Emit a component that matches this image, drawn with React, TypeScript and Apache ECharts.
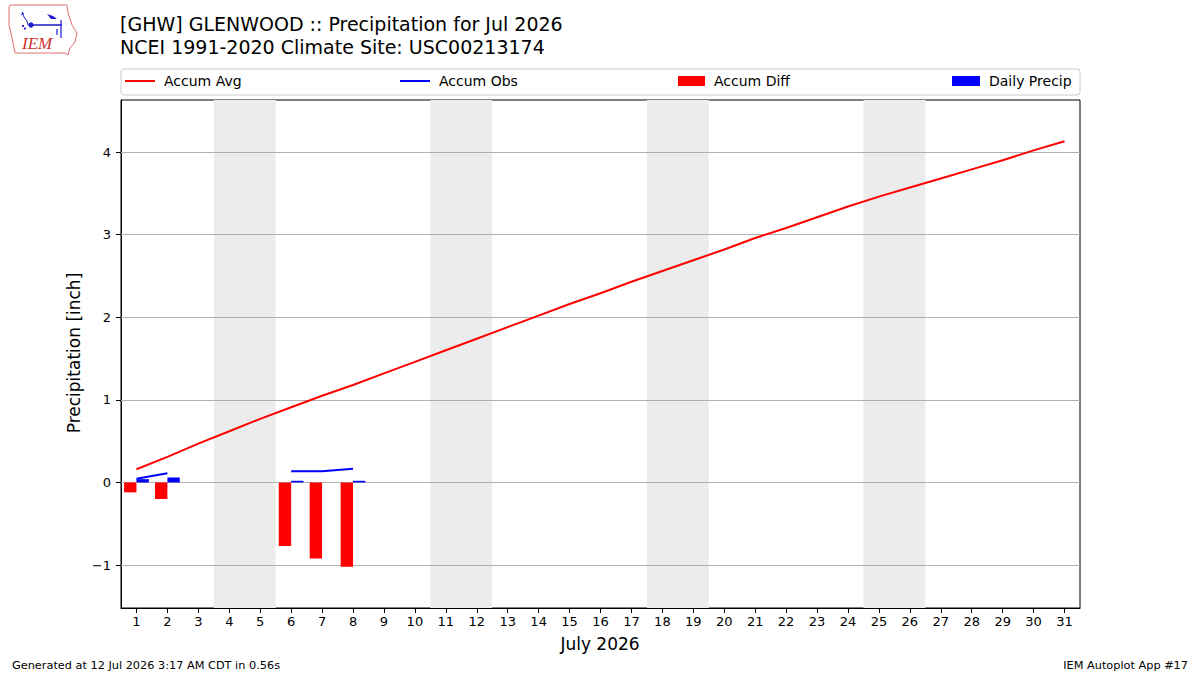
import React, { useEffect, useRef } from "react";
import * as echarts from "echarts";

const days = [1, 2, 3, 4, 5, 6, 7, 8, 9, 10, 11, 12, 13, 14, 15, 16, 17, 18, 19, 20, 21, 22, 23, 24, 25, 26, 27, 28, 29, 30, 31];
const accumAvg = [0.16, 0.31, 0.47, 0.62, 0.77, 0.91, 1.05, 1.18, 1.32, 1.46, 1.6, 1.74, 1.88, 2.02, 2.16, 2.29, 2.43, 2.56, 2.69, 2.82, 2.96, 3.08, 3.21, 3.34, 3.46, 3.57, 3.68, 3.79, 3.9, 4.02, 4.13];
const accumObs: (number | null)[] = [0.045, 0.11, null, null, null, 0.135, 0.135, 0.165];
const accumDiff: (number | null)[] = [-0.12, -0.2, null, null, null, -0.77, -0.92, -1.02];
const dailyPrecip: (number | null)[] = [0.04, 0.06, null, null, null, 0.02, 0, 0.02];
const weekendStarts = [4, 11, 18, 25];
const yTicks = [-1, 0, 1, 2, 3, 4];
const titleLines = ["[GHW] GLENWOOD :: Precipitation for Jul 2026", "NCEI 1991-2020 Climate Site: USC00213174"];

const FONT = "DejaVu Sans";

export default function App() {
  const ref = useRef<HTMLDivElement>(null);
  useEffect(() => {
    const chart = echarts.init(ref.current!, null, { renderer: "svg" });

    const barSeries = (name: string, values: (number | null)[], color: string, off0: number, off1: number) => ({
      name,
      type: "custom",
      z: 3,
      color,
      itemStyle: { color },
      encode: { x: 0, y: 1 },
      data: days
        .map((d, i) => (values[i] == null ? null : [d, values[i] as number]))
        .filter((v) => v !== null),
      renderItem: (_p: any, api: any) => {
        const x = api.value(0);
        const y = api.value(1);
        const a = api.coord([x + off0, 0]);
        const b = api.coord([x + off1, y]);
        return {
          type: "rect",
          shape: { x: a[0], y: Math.min(a[1], b[1]), width: b[0] - a[0], height: Math.abs(b[1] - a[1]) },
          style: { fill: color },
        };
      },
    });

    const legendText = { fontFamily: FONT, fontSize: 14, color: "#000", padding: [0, 0, 0, 4] };
    const mkLegend = (name: string, left: number, w: number, h: number) => ({
      data: [{ name, icon: "rect" }],
      left,
      top: 74,
      itemWidth: w,
      itemHeight: h,
      textStyle: legendText,
      selectedMode: false,
      padding: 0,
    });

    const blue = "#1a1acc";
    const option: any = {
      animation: false,
      backgroundColor: "#fff",
      textStyle: { fontFamily: FONT },
      grid: { left: 121, right: 120, top: 100, bottom: 67, show: true, borderColor: "#000", borderWidth: 1, backgroundColor: "transparent" },
      legend: [
        mkLegend("Accum Avg", 125, 30, 2),
        mkLegend("Accum Obs", 400, 30, 2),
        mkLegend("Accum Diff", 678, 27, 10),
        mkLegend("Daily Precip", 952, 28, 10),
      ],
      xAxis: {
        type: "value",
        min: 0.5,
        max: 31.5,
        axisLine: { show: true, onZero: false, lineStyle: { color: "#000", width: 1 } },
        axisTick: { show: true, customValues: days, length: 5, lineStyle: { color: "#000" } },
        axisLabel: { customValues: days, color: "#000", fontSize: 13, fontFamily: FONT, margin: 7 },
        splitLine: { show: false },
      },
      yAxis: {
        type: "value",
        min: -1.52,
        max: 4.63,
        axisLine: { show: true, onZero: false, lineStyle: { color: "#000", width: 1 } },
        axisTick: { show: true, customValues: yTicks, length: 5, lineStyle: { color: "#000" } },
        axisLabel: {
          customValues: yTicks,
          color: "#000",
          fontSize: 13,
          fontFamily: FONT,
          margin: 10,
          formatter: (v: number) => (v < 0 ? "\u2212" + Math.abs(v) : String(v)),
        },
        splitLine: { show: false },
      },
      series: [
        {
          name: "bg",
          type: "line",
          data: [],
          z: 0,
          silent: true,
          markArea: {
            silent: true,
            z: 0,
            itemStyle: { color: "#ececec" },
            data: weekendStarts.map((d) => [{ xAxis: d - 0.5 }, { xAxis: d + 1.5 }]),
          },
        },
        {
          name: "grid",
          type: "line",
          data: [],
          z: 1,
          silent: true,
          markLine: {
            silent: true,
            z: 1,
            symbol: "none",
            label: { show: false },
            lineStyle: { color: "#b0b0b0", width: 1, type: "solid" },
            data: yTicks.map((v) => ({ yAxis: v })),
          },
        },
        {
          name: "Accum Avg",
          type: "line",
          z: 4,
          color: "#ff0000",
          symbol: "none",
          itemStyle: { color: "#ff0000" },
          lineStyle: { color: "#ff0000", width: 2 },
          data: days.map((d, i) => [d, accumAvg[i]]),
        },
        {
          name: "Accum Obs",
          type: "line",
          z: 4,
          color: "#0000ff",
          symbol: "none",
          connectNulls: false,
          itemStyle: { color: "#0000ff" },
          lineStyle: { color: "#0000ff", width: 2 },
          data: days.map((d, i) => [d, accumObs[i] == null ? "-" : accumObs[i]]),
        },
        barSeries("Accum Diff", accumDiff, "#ff0000", -0.4, 0),
        barSeries("Daily Precip", dailyPrecip, "#0000ff", 0, 0.4),
      ],
      graphic: [
        { type: "rect", z: -1, shape: { x: 121, y: 69, width: 959, height: 26, r: 3 }, style: { fill: "#fff", stroke: "#cccccc", lineWidth: 1 } },
        { type: "text", x: 120, y: 24, style: { text: titleLines[0], font: `19px "${FONT}"`, fill: "#000", verticalAlign: "middle" } },
        { type: "text", x: 120, y: 47, style: { text: titleLines[1], font: `19px "${FONT}"`, fill: "#000", verticalAlign: "middle" } },
        { type: "text", x: 74, y: 353, rotation: Math.PI / 2, style: { text: "Precipitation [inch]", font: `17px "${FONT}"`, fill: "#000", align: "center", verticalAlign: "middle" } },
        { type: "text", x: 600, y: 644, style: { text: "July 2026", font: `17px "${FONT}"`, fill: "#000", align: "center", verticalAlign: "middle" } },
        { type: "text", x: 12, y: 665, style: { text: "Generated at 12 Jul 2026 3:17 AM CDT in 0.56s", font: `11.3px "${FONT}"`, fill: "#000", verticalAlign: "middle" } },
        { type: "text", x: 1188, y: 665, style: { text: "IEM Autoplot App #17", font: `11.3px "${FONT}"`, fill: "#000", align: "right", verticalAlign: "middle" } },
        {
          type: "group",
          children: [
            {
              type: "polygon",
              shape: { points: [[10, 5], [67, 5], [68, 13], [72, 25], [77, 33], [75, 42], [70, 48], [68, 55], [65, 53], [15, 53], [13, 43], [11, 33], [9, 25], [9, 7]] },
              style: { fill: "none", stroke: "#e07070", lineWidth: 1 },
            },
            { type: "line", shape: { x1: 31, y1: 25, x2: 62, y2: 25 }, style: { stroke: blue, lineWidth: 1.5 } },
            { type: "circle", shape: { cx: 31, cy: 25, r: 2.7 }, style: { fill: blue } },
            { type: "line", shape: { x1: 61, y1: 20, x2: 61, y2: 38 }, style: { stroke: blue, lineWidth: 1.2 } },
            { type: "polygon", shape: { points: [[47, 14], [53, 16], [57, 19], [51, 19]] }, style: { fill: blue } },
            { type: "polyline", shape: { points: [[22, 12], [24, 17], [27, 21], [28, 25]] }, style: { stroke: blue, lineWidth: 1, fill: "none" } },
            { type: "line", shape: { x1: 21, y1: 15, x2: 24, y2: 13 }, style: { stroke: blue, lineWidth: 1 } },
            { type: "circle", shape: { cx: 23, cy: 26, r: 1.1 }, style: { fill: blue } },
            { type: "circle", shape: { cx: 25, cy: 28.5, r: 1.1 }, style: { fill: blue } },
            { type: "line", shape: { x1: 57, y1: 29, x2: 57, y2: 35 }, style: { stroke: blue, lineWidth: 1.2 } },
            { type: "text", x: 22, y: 43, style: { text: "IEM", font: `italic 17px "Liberation Serif"`, fill: "#d03030", verticalAlign: "middle" } },
          ],
        },
      ],
    };
    chart.setOption(option);
    return () => chart.dispose();
  }, []);
  return <div ref={ref} style={{ position: "fixed", left: 0, top: 0, width: 1200, height: 675 }} />;
}
